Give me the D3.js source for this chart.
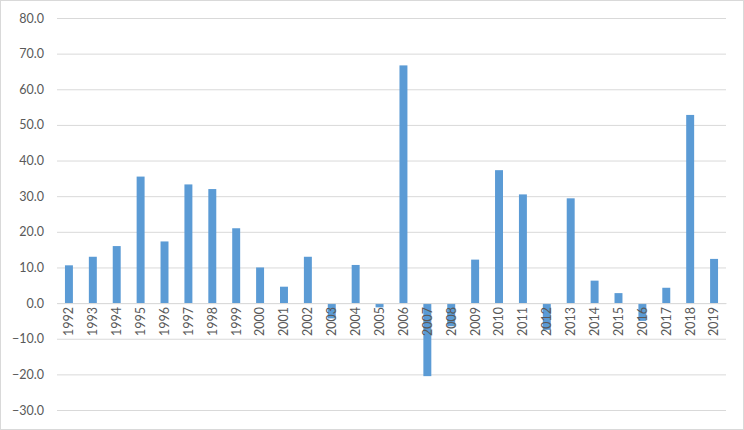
<!DOCTYPE html>
<html><head><meta charset="utf-8">
<script src="https://cdn.jsdelivr.net/npm/d3@7"></script>
<style>body{margin:0;background:#fff}svg{display:block}</style>
</head><body>
<svg id="chart" width="744" height="430"></svg>
<script>
const years = ["1992","1993","1994","1995","1996","1997","1998","1999","2000","2001","2002","2003","2004","2005","2006","2007","2008","2009","2010","2011","2012","2013","2014","2015","2016","2017","2018","2019"];
const values = [10.6,13.0,16.0,35.5,17.3,33.3,32.0,21.0,10.0,4.6,13.0,-4.3,10.7,-1.2,66.7,-20.5,-6.5,12.2,37.3,30.5,-7.5,29.4,6.3,2.8,-5.0,4.3,52.8,12.4];
const yTicks = [-30,-20,-10,0,10,20,30,40,50,60,70,80];

const svg = d3.select("#chart");
const W = 744, H = 430;
const m = {left:57, right:18, top:18, bottom:20};

svg.append("rect").attr("x",0.5).attr("y",0.5).attr("width",W-1).attr("height",H-1)
  .attr("fill","#fff").attr("stroke","#d9d9d9");

const x = d3.scaleBand().domain(years).range([m.left, W - m.right]).paddingInner(0.667).paddingOuter(0.333);
const y = d3.scaleLinear().domain([-30,80]).range([H - m.bottom, m.top]);

const yAxis = svg.append("g").attr("transform",`translate(${m.left},0)`)
  .call(d3.axisLeft(y).tickValues(yTicks).tickSize(-(W - m.left - m.right)).tickFormat(d3.format(".1f")));
yAxis.select(".domain").remove();
yAxis.selectAll(".tick line").attr("stroke","#d9d9d9");
yAxis.selectAll(".tick text").attr("x",-13).attr("fill","#595959")
  .style("font-family","Lato, 'Open Sans', sans-serif").style("font-size","12.5px");

svg.append("g").selectAll("rect").data(values).join("rect")
  .attr("x",(d,i)=>x(years[i]))
  .attr("width",x.bandwidth())
  .attr("y",d=>y(Math.max(0,d)))
  .attr("height",d=>Math.abs(y(d)-y(0)))
  .attr("fill","#5b9bd5");

const xAxis = svg.append("g").attr("transform",`translate(0,${y(0)})`)
  .call(d3.axisBottom(x).tickSize(0));
xAxis.select(".domain").attr("stroke","#d9d9d9");
xAxis.selectAll(".tick text")
  .attr("transform","rotate(-90)")
  .attr("x",-4).attr("y",0).attr("dy","0.35em")
  .attr("text-anchor","end").attr("fill","#595959")
  .style("font-family","Lato, 'Open Sans', sans-serif").style("font-size","12.5px");
</script>
</body></html>
